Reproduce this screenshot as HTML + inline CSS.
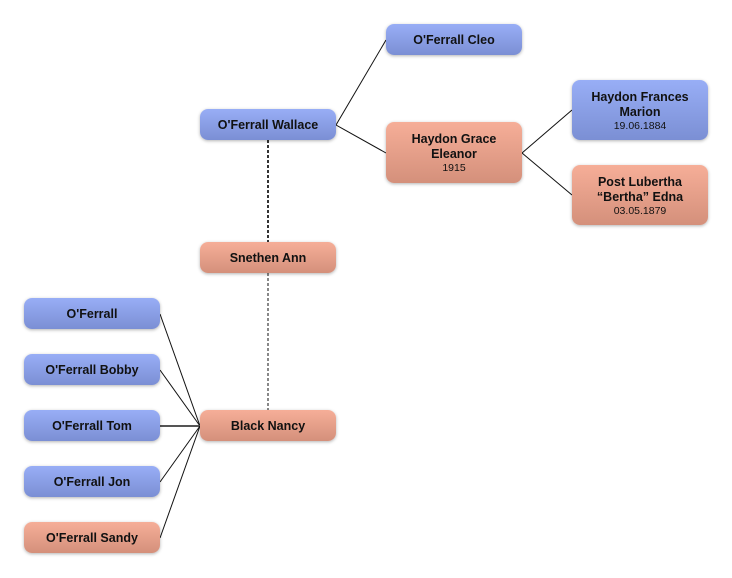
<!DOCTYPE html>
<html><head><style>
body{margin:0;width:732px;height:578px;background:#fff;position:relative;font-family:"Liberation Sans",sans-serif;overflow:hidden}
.b{position:absolute;width:136px;border-radius:8px;box-shadow:0 1px 3px rgba(0,0,0,.3);display:flex;flex-direction:column;justify-content:center;align-items:center;text-align:center;font-weight:bold;font-size:12.5px;color:#111;line-height:15px;padding-top:2px;box-sizing:border-box}
.m{background:linear-gradient(#98aef6,#7b8fd4)}
.f{background:linear-gradient(#f6ae98,#d4907b)}
.b small{font-weight:normal;font-size:10.5px;line-height:13px}
svg{position:absolute;left:0;top:0}
</style></head><body>
<svg width="732" height="578">
<g stroke="#111" stroke-width="1" fill="none">
<line x1="336" y1="125" x2="386" y2="40"/><line x1="336" y1="125" x2="386" y2="153"/>
<line x1="522" y1="153" x2="572" y2="110"/><line x1="522" y1="153" x2="572" y2="195"/>
<line x1="160" y1="314" x2="200" y2="426"/><line x1="160" y1="370" x2="200" y2="426"/>
<line x1="160" y1="426" x2="200" y2="426" stroke="#555" stroke-width="2"/>
<line x1="160" y1="482" x2="200" y2="426"/><line x1="160" y1="538" x2="200" y2="426"/>
</g>
<line x1="268" y1="140" x2="268" y2="242" stroke="#333" stroke-width="2" stroke-dasharray="3,2"/>
<line x1="268" y1="273" x2="268" y2="410" stroke="#888" stroke-width="2" stroke-dasharray="3,2"/>
</svg>
<div class="b m" style="left:386px;top:24px;height:31px">O'Ferrall Cleo</div>
<div class="b m" style="left:200px;top:109px;height:31px">O'Ferrall Wallace</div>
<div class="b f" style="left:386px;top:122px;height:61px">Haydon Grace<br>Eleanor<small>1915</small></div>
<div class="b m" style="left:572px;top:80px;height:60px">Haydon Frances<br>Marion<small>19.06.1884</small></div>
<div class="b f" style="left:572px;top:165px;height:60px">Post Lubertha<br>“Bertha” Edna<small>03.05.1879</small></div>
<div class="b f" style="left:200px;top:242px;height:31px">Snethen Ann</div>
<div class="b f" style="left:200px;top:410px;height:31px">Black Nancy</div>
<div class="b m" style="left:24px;top:298px;height:31px">O'Ferrall</div>
<div class="b m" style="left:24px;top:354px;height:31px">O'Ferrall Bobby</div>
<div class="b m" style="left:24px;top:410px;height:31px">O'Ferrall Tom</div>
<div class="b m" style="left:24px;top:466px;height:31px">O'Ferrall Jon</div>
<div class="b f" style="left:24px;top:522px;height:31px">O'Ferrall Sandy</div>
</body></html>
